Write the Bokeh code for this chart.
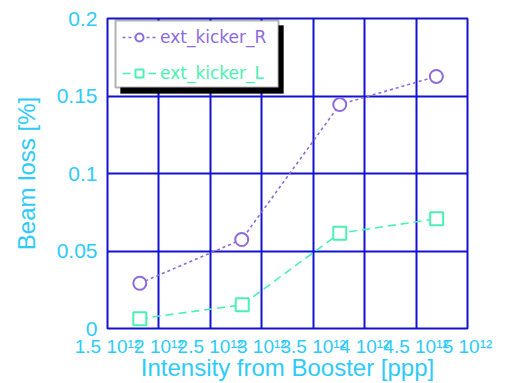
from bokeh.plotting import figure
from bokeh.models import (FixedTicker, Legend, LegendItem, BoxAnnotation, Range1d)
from bokeh.embed import file_html
from bokeh.resources import INLINE

# ---- data (intensity in units of 1e12 ppp, loss in %) ----
x_R = [1.814, 2.805, 3.758, 4.697]
y_R = [0.0292, 0.0574, 0.1445, 0.1626]
x_L = [1.814, 2.810, 3.758, 4.700]
y_L = [0.0063, 0.0153, 0.0615, 0.0708]

x_ticks = [1.5, 2.0, 2.5, 3.0, 3.5, 4.0, 4.5, 5.0]
x_tick_labels = ["1.5 10\u00b9\u00b2", "2 10\u00b9\u00b2", "2.5 10\u00b9\u00b2", "3 10\u00b9\u00b2",
                 "3.5 10\u00b9\u00b2", "4 10\u00b9\u00b2", "4.5 10\u00b9\u00b2", "5 10\u00b9\u00b2"]
y_ticks = [0.0, 0.05, 0.1, 0.15, 0.2]
y_tick_labels = ["0", "0.05", "0.1", "0.15", "0.2"]

series_names = ["ext_kicker_R", "ext_kicker_L"]

CYAN = "#2ECBFA"
BLUE = "#1212D0"
PURPLE = "#8C6BDC"
AQUA = "#4DF0B4"
FONT = "Liberation Sans"

XMIN, XMAX, YMIN, YMAX = 1.5, 5.0, 0.0, 0.2
W, H = 507, 383
FL, FR, FT, FB = 107, 467, 18, 328   # frame edges in canvas px

p = figure(width=W, height=H, output_backend="svg", toolbar_location=None,
           x_range=Range1d(XMIN, XMAX), y_range=Range1d(YMIN, YMAX),
           min_border_left=FL, min_border_right=W - FR,
           min_border_top=FT, min_border_bottom=H - FB)
p.background_fill_color = "white"
p.border_fill_color = "white"
p.outline_line_color = BLUE
p.outline_line_width = 2

for ax in (p.xaxis[0], p.yaxis[0]):
    ax.axis_line_color = None
    ax.major_tick_line_color = None
    ax.minor_tick_line_color = None
    ax.major_tick_out = 0
    ax.major_tick_in = 0
    ax.major_label_text_color = CYAN
    ax.major_label_text_font = FONT
    ax.axis_label_text_color = CYAN
    ax.axis_label_text_font = FONT
    ax.axis_label_text_font_style = "normal"
    ax.axis_label_text_font_size = "24px"

p.xaxis.ticker = FixedTicker(ticks=x_ticks)
p.xaxis.major_label_overrides = dict(zip(x_ticks, x_tick_labels))
p.xaxis.major_label_text_font_size = "19px"
p.xaxis.major_label_standoff = 7
p.xaxis.axis_label = "Intensity from Booster [ppp]"
p.xaxis.axis_label_standoff = -6

p.yaxis.ticker = FixedTicker(ticks=y_ticks)
p.yaxis.major_label_overrides = dict(zip(y_ticks, y_tick_labels))
p.yaxis.major_label_text_font_size = "21px"
p.yaxis.major_label_standoff = 10
p.yaxis.axis_label = "Beam loss [%]"
p.yaxis.axis_label_standoff = 14

for g in (p.xgrid[0], p.ygrid[0]):
    g.grid_line_color = BLUE
    g.grid_line_width = 2
    g.grid_line_alpha = 1.0

lR = p.line(x_R, y_R, line_color=PURPLE, line_width=1.6, line_dash="3 3")
sR = p.scatter(x_R, y_R, marker="circle", size=13, line_color=PURPLE, line_width=2,
               fill_color="white")
lL = p.line(x_L, y_L, line_color=AQUA, line_width=1.6, line_dash="8 5")
sL = p.scatter(x_L, y_L, marker="square", size=13, line_color=AQUA, line_width=2,
               fill_color="white")

# legend frame with drop shadow (pixel geometry converted to data units)
def dx(px):
    return XMIN + (px - FL) * (XMAX - XMIN) / (FR - FL)

def dy(py):
    return YMIN + (FB - py) * (YMAX - YMIN) / (FB - FT)

shadow = BoxAnnotation(left=dx(120), right=dx(283), top=dy(25), bottom=dy(93),
                       fill_color="black", fill_alpha=1.0, line_color="black")
box = BoxAnnotation(left=dx(115), right=dx(278), top=dy(20), bottom=dy(87),
                    fill_color="white", fill_alpha=1.0, line_color="black", line_width=2)
p.add_layout(shadow)
p.add_layout(box)

def make_legend(name, rends, color, loc):
    lg = Legend(items=[LegendItem(label=name, renderers=rends)], location=loc,
                orientation="vertical", border_line_color=None,
                background_fill_alpha=0.0, padding=0, margin=0,
                glyph_width=34, glyph_height=20, label_height=20,
                label_standoff=4, label_text_font="DejaVu Sans", label_text_font_size="17px",
                label_text_color=color)
    return lg

p.add_layout(make_legend(series_names[0], [lR, sR], PURPLE, (15, 281)))
p.add_layout(make_legend(series_names[1], [lL, sL], AQUA, (15, 245)))

open("out.html", "w").write(file_html(p, INLINE))
